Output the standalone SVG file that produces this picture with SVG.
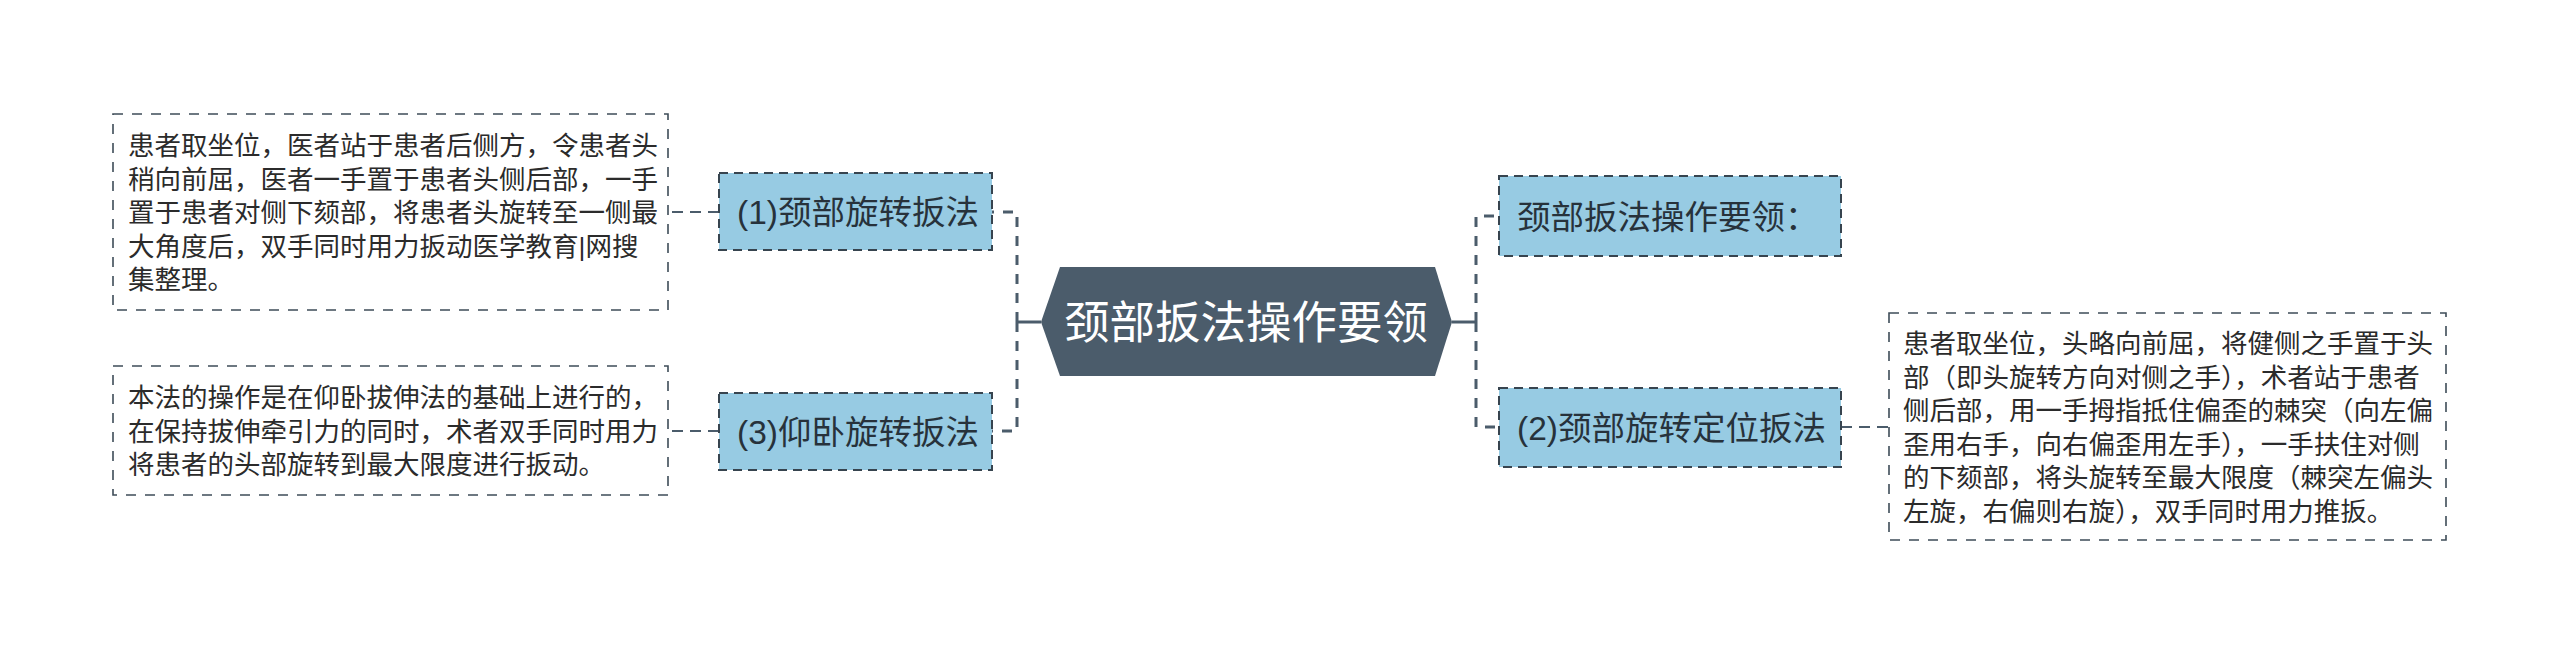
<svg xmlns="http://www.w3.org/2000/svg" width="2560" height="657" viewBox="0 0 2560 657">
<style>
  .bg { fill: #ffffff; }
  .txt { font-family: 'Liberation Sans', 'Noto Sans CJK SC', sans-serif; }
  .detail rect { fill: #ffffff; stroke: #3e4c58; stroke-width: 1.6; stroke-dasharray: 10 9; }
  .detail text { font-size: 26.5px; fill: #2b2b2b; }
  .sub rect { fill: #97cbe3; stroke: #37444f; stroke-width: 2; stroke-dasharray: 9 6; }
  .sub text { font-size: 33.5px; fill: #27323b; }
  .root polygon { fill: #4b5c6b; }
  .root text { font-size: 45.5px; fill: #ffffff; }
  .trunk { fill: none; stroke: #4b5c6b; stroke-width: 3; stroke-dasharray: 10 9; }
  .stub { fill: none; stroke: #4b5c6b; stroke-width: 3; }
  .leaf { fill: none; stroke: #4b5c6b; stroke-width: 2; stroke-dasharray: 11 7; }
</style>
<rect class="bg" x="0" y="0" width="2560" height="657"/>

<g id="connectors">
  <path class="stub" d="M1041,322 H1017"/>
  <path class="trunk" d="M1017,322 V212 H992"/>
  <path class="trunk" d="M1017,322 V431 H992"/>
  <path class="stub" d="M1452,322 H1476"/>
  <path class="trunk" d="M1476,322 V216 H1499"/>
  <path class="trunk" d="M1476,322 V427 H1499"/>
  <path class="leaf" d="M719,212 H668"/>
  <path class="leaf" d="M719,431 H668"/>
  <path class="leaf" d="M1841,427 H1889"/>
</g>

<g id="root" class="root txt">
  <polygon points="1060,267 1435,267 1452,322 1435,376 1060,376 1041,322"/>
  <text x="1246" y="339" text-anchor="middle">颈部扳法操作要领</text>
</g>

<g id="n1" class="sub txt">
  <rect x="719" y="173" width="273" height="77"/>
  <text x="737" y="224">(1)颈部旋转扳法</text>
</g>

<g id="n3" class="sub txt">
  <rect x="719" y="393" width="273" height="77"/>
  <text x="737" y="444">(3)仰卧旋转扳法</text>
</g>

<g id="nr1" class="sub txt">
  <rect x="1499" y="176" width="342" height="80"/>
  <text x="1517" y="229">颈部扳法操作要领：</text>
</g>

<g id="n2" class="sub txt">
  <rect x="1499" y="388" width="342" height="79"/>
  <text x="1517" y="440">(2)颈部旋转定位扳法</text>
</g>

<g id="d1" class="detail txt">
  <rect x="113" y="114" width="555" height="196"/>
  <text x="128" y="155">患者取坐位，医者站于患者后侧方，令患者头</text>
  <text x="128" y="188.5">稍向前屈，医者一手置于患者头侧后部，一手</text>
  <text x="128" y="222">置于患者对侧下颏部，将患者头旋转至一侧最</text>
  <text x="128" y="255.5">大角度后，双手同时用力扳动医学教育|网搜</text>
  <text x="128" y="289">集整理。</text>
</g>

<g id="d3" class="detail txt">
  <rect x="113" y="366" width="555" height="129"/>
  <text x="128" y="407">本法的操作是在仰卧拔伸法的基础上进行的，</text>
  <text x="128" y="440.5">在保持拔伸牵引力的同时，术者双手同时用力</text>
  <text x="128" y="474">将患者的头部旋转到最大限度进行扳动。</text>
</g>

<g id="d2" class="detail txt">
  <rect x="1889" y="313" width="557" height="227"/>
  <text x="1903" y="353">患者取坐位，头略向前屈，将健侧之手置于头</text>
  <text x="1903" y="386.5">部（即头旋转方向对侧之手），术者站于患者</text>
  <text x="1903" y="420">侧后部，用一手拇指抵住偏歪的棘突（向左偏</text>
  <text x="1903" y="453.5">歪用右手，向右偏歪用左手），一手扶住对侧</text>
  <text x="1903" y="487">的下颏部，将头旋转至最大限度（棘突左偏头</text>
  <text x="1903" y="520.5">左旋，右偏则右旋），双手同时用力推扳。</text>
</g>
</svg>
